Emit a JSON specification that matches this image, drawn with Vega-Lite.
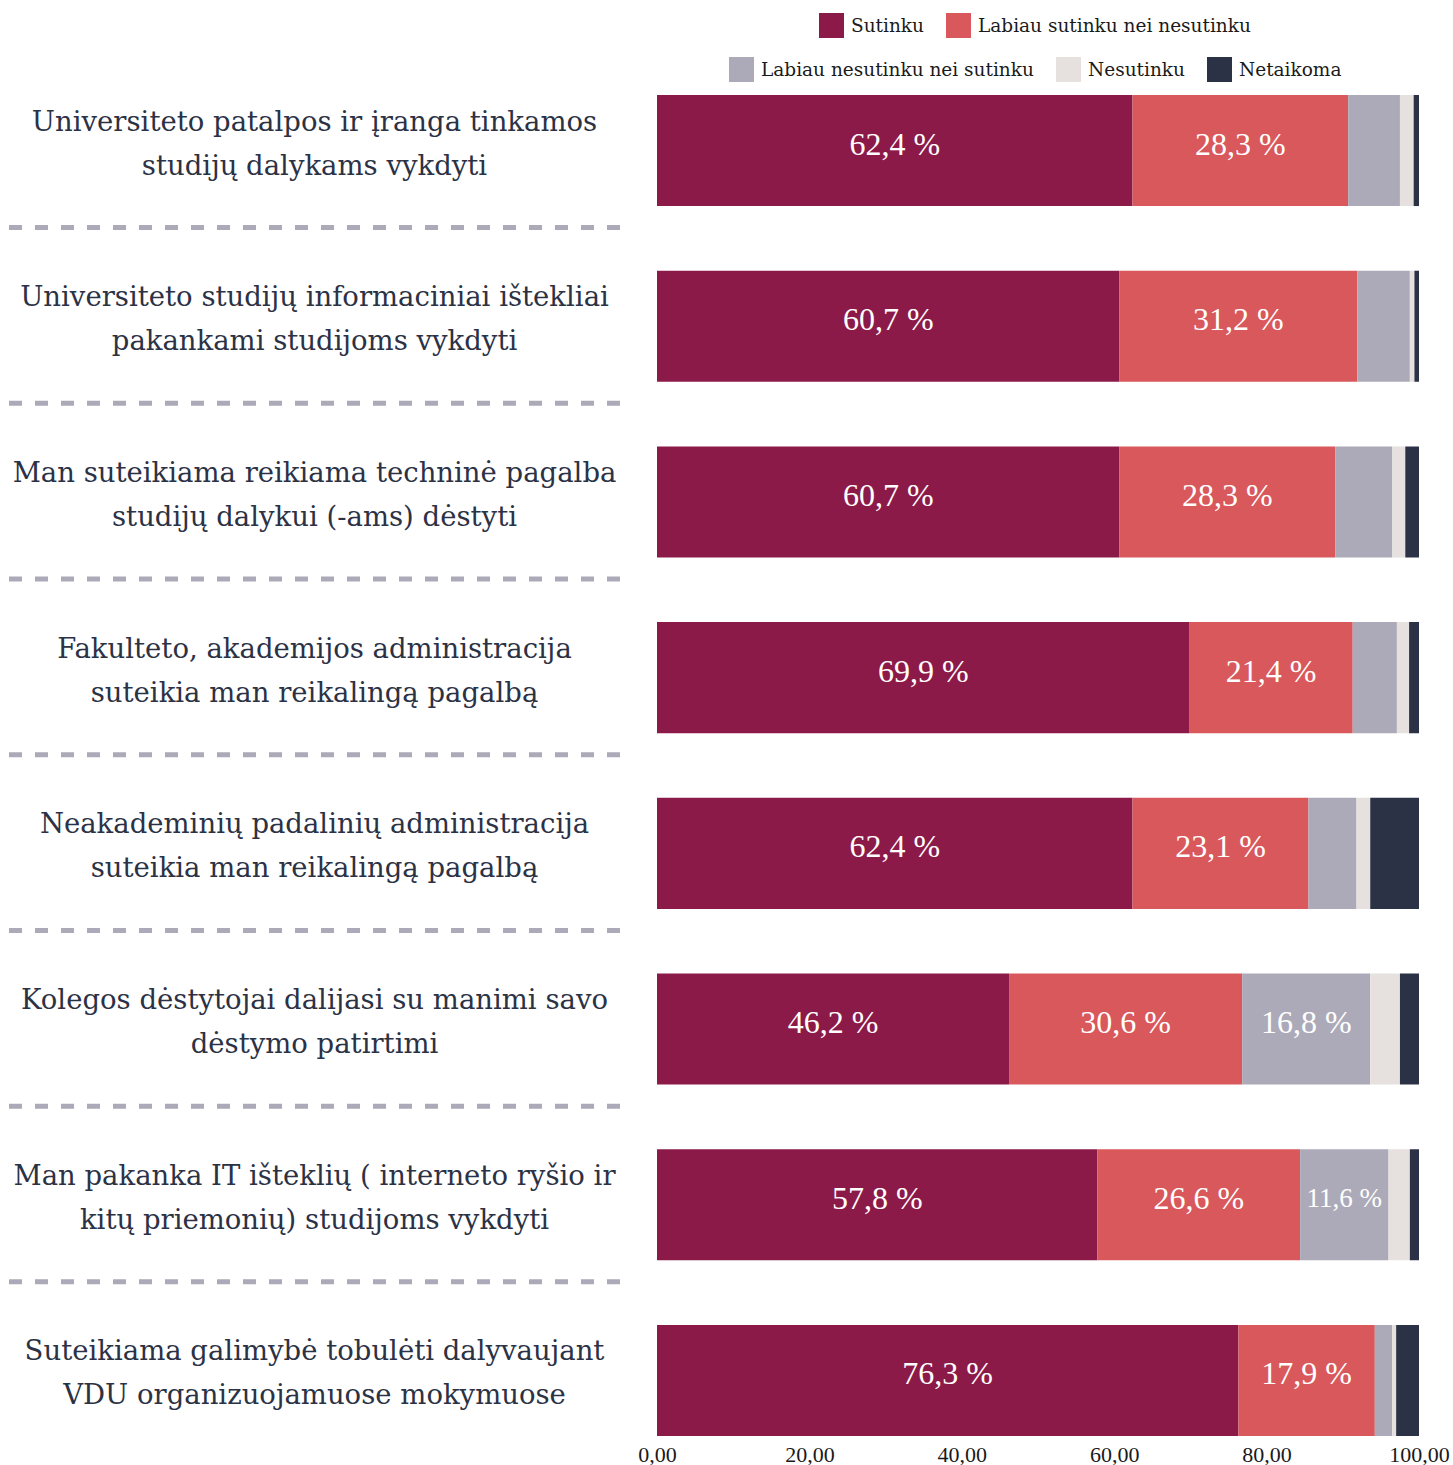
{
  "$schema": "https://vega.github.io/schema/vega-lite/v6.json",
  "padding": {"left": 6, "top": 13, "right": 0, "bottom": 0},
  "background": "white",
  "bounds": "flush",
  "config": {"view": {"stroke": null}, "concat": {"spacing": 37}},
  "datasets": {
    "questions": [
      {"q": 1, "label": "Universiteto patalpos ir įranga tinkamos\nstudijų dalykams vykdyti"},
      {"q": 2, "label": "Universiteto studijų informaciniai ištekliai\npakankami studijoms vykdyti"},
      {"q": 3, "label": "Man suteikiama reikiama techninė pagalba\nstudijų dalykui (-ams) dėstyti"},
      {"q": 4, "label": "Fakulteto, akademijos administracija\nsuteikia man reikalingą pagalbą"},
      {"q": 5, "label": "Neakademinių padalinių administracija\nsuteikia man reikalingą pagalbą"},
      {"q": 6, "label": "Kolegos dėstytojai dalijasi su manimi savo\ndėstymo patirtimi"},
      {"q": 7, "label": "Man pakanka IT išteklių ( interneto ryšio ir\nkitų priemonių) studijoms vykdyti"},
      {"q": 8, "label": "Suteikiama galimybė tobulėti dalyvaujant\nVDU organizuojamuose mokymuose"}
    ],
    "answers": [
      {"q": 1, "ord": 1, "cat": "Sutinku", "value": 62.4},
      {"q": 1, "ord": 2, "cat": "Labiau sutinku nei nesutinku", "value": 28.3},
      {"q": 1, "ord": 3, "cat": "Labiau nesutinku nei sutinku", "value": 6.8},
      {"q": 1, "ord": 4, "cat": "Nesutinku", "value": 1.8},
      {"q": 1, "ord": 5, "cat": "Netaikoma", "value": 0.7},
      {"q": 2, "ord": 1, "cat": "Sutinku", "value": 60.7},
      {"q": 2, "ord": 2, "cat": "Labiau sutinku nei nesutinku", "value": 31.2},
      {"q": 2, "ord": 3, "cat": "Labiau nesutinku nei sutinku", "value": 6.9},
      {"q": 2, "ord": 4, "cat": "Nesutinku", "value": 0.6},
      {"q": 2, "ord": 5, "cat": "Netaikoma", "value": 0.6},
      {"q": 3, "ord": 1, "cat": "Sutinku", "value": 60.7},
      {"q": 3, "ord": 2, "cat": "Labiau sutinku nei nesutinku", "value": 28.3},
      {"q": 3, "ord": 3, "cat": "Labiau nesutinku nei sutinku", "value": 7.5},
      {"q": 3, "ord": 4, "cat": "Nesutinku", "value": 1.7},
      {"q": 3, "ord": 5, "cat": "Netaikoma", "value": 1.8},
      {"q": 4, "ord": 1, "cat": "Sutinku", "value": 69.9},
      {"q": 4, "ord": 2, "cat": "Labiau sutinku nei nesutinku", "value": 21.4},
      {"q": 4, "ord": 3, "cat": "Labiau nesutinku nei sutinku", "value": 5.8},
      {"q": 4, "ord": 4, "cat": "Nesutinku", "value": 1.6},
      {"q": 4, "ord": 5, "cat": "Netaikoma", "value": 1.3},
      {"q": 5, "ord": 1, "cat": "Sutinku", "value": 62.4},
      {"q": 5, "ord": 2, "cat": "Labiau sutinku nei nesutinku", "value": 23.1},
      {"q": 5, "ord": 3, "cat": "Labiau nesutinku nei sutinku", "value": 6.3},
      {"q": 5, "ord": 4, "cat": "Nesutinku", "value": 1.8},
      {"q": 5, "ord": 5, "cat": "Netaikoma", "value": 6.4},
      {"q": 6, "ord": 1, "cat": "Sutinku", "value": 46.2},
      {"q": 6, "ord": 2, "cat": "Labiau sutinku nei nesutinku", "value": 30.6},
      {"q": 6, "ord": 3, "cat": "Labiau nesutinku nei sutinku", "value": 16.8},
      {"q": 6, "ord": 4, "cat": "Nesutinku", "value": 3.9},
      {"q": 6, "ord": 5, "cat": "Netaikoma", "value": 2.5},
      {"q": 7, "ord": 1, "cat": "Sutinku", "value": 57.8},
      {"q": 7, "ord": 2, "cat": "Labiau sutinku nei nesutinku", "value": 26.6},
      {"q": 7, "ord": 3, "cat": "Labiau nesutinku nei sutinku", "value": 11.6},
      {"q": 7, "ord": 4, "cat": "Nesutinku", "value": 2.8},
      {"q": 7, "ord": 5, "cat": "Netaikoma", "value": 1.2},
      {"q": 8, "ord": 1, "cat": "Sutinku", "value": 76.3},
      {"q": 8, "ord": 2, "cat": "Labiau sutinku nei nesutinku", "value": 17.9},
      {"q": 8, "ord": 3, "cat": "Labiau nesutinku nei sutinku", "value": 2.3},
      {"q": 8, "ord": 4, "cat": "Nesutinku", "value": 0.5},
      {"q": 8, "ord": 5, "cat": "Netaikoma", "value": 3.0}
    ]
  },
  "hconcat": [
    {
      "width": 611,
      "height": 1341,
      "data": {"name": "questions"},
      "layer": [
        {
          "mark": {"type": "text", "font": "DejaVu Serif", "fontSize": 27.5, "color": "#2C3245", "lineBreak": "\n", "lineHeight": 44, "align": "center", "baseline": "middle", "dy": -28},
          "encoding": {
            "y": {"field": "q", "type": "ordinal", "axis": null, "scale": {"paddingInner": 0.368, "paddingOuter": 0}},
            "text": {"field": "label", "type": "nominal"}
          }
        },
        {
          "transform": [{"filter": "datum.q < 8"}],
          "mark": {"type": "rule", "color": "#ACAAB8", "strokeWidth": 5, "strokeDash": [13, 13]},
          "encoding": {
            "y": {"field": "q", "type": "ordinal", "axis": null, "bandPosition": 1.194}
          }
        }
      ]
    },
    {
      "width": 762,
      "height": 1341,
      "data": {"name": "answers"},
      "transform": [
        {"stack": "value", "groupby": ["q"], "sort": [{"field": "ord", "order": "ascending"}], "as": ["x0", "x1"]},
        {"calculate": "(datum.x0 + datum.x1) / 2", "as": "mid"},
        {"calculate": "replace(format(datum.value, '.1f'), '.', ',') + ' %'", "as": "txt"}
      ],
      "encoding": {
        "y": {"field": "q", "type": "ordinal", "axis": null, "scale": {"paddingInner": 0.368, "paddingOuter": 0}}
      },
      "layer": [
        {
          "transform": [{"filter": "datum.ord <= 2"}],
          "mark": {"type": "bar"},
          "encoding": {
            "x": {
              "field": "x0", "type": "quantitative",
              "scale": {"domain": [0, 100], "nice": false},
              "axis": {"values": [0, 20, 40, 60, 80, 100], "labelExpr": "replace(format(datum.value, '.2f'), '.', ',')", "domain": false, "ticks": false, "grid": false, "title": null, "labelFont": "Liberation Serif", "labelFontSize": 22, "labelColor": "#1a1a1a", "labelPadding": 8, "labelFlush": false}
            },
            "x2": {"field": "x1"},
            "color": {
              "field": "cat", "type": "nominal",
              "scale": {"domain": ["Sutinku", "Labiau sutinku nei nesutinku"], "range": ["#8C1A48", "#D9585B"]},
              "legend": {"orient": "none", "legendX": 810, "legendY": -82, "direction": "horizontal", "title": null, "symbolType": "square", "symbolSize": 625, "symbolStrokeWidth": 0, "symbolOpacity": 1, "labelFont": "DejaVu Serif", "labelFontSize": 18.5, "labelLimit": 0, "labelColor": "#1a1a1a", "labelOffset": 7, "columnPadding": 22, "padding": 0, "offset": 0}
            }
          }
        },
        {
          "transform": [{"filter": "datum.ord > 2"}],
          "mark": {"type": "bar"},
          "encoding": {
            "x": {"field": "x0", "type": "quantitative"},
            "x2": {"field": "x1"},
            "fill": {
              "field": "cat", "type": "nominal",
              "scale": {"domain": ["Labiau nesutinku nei sutinku", "Nesutinku", "Netaikoma"], "range": ["#ACAAB8", "#E6E1DE", "#2C3245"]},
              "legend": {"orient": "none", "legendX": 720, "legendY": -38, "direction": "horizontal", "title": null, "symbolType": "square", "symbolSize": 625, "symbolStrokeWidth": 0, "symbolOpacity": 1, "labelFont": "DejaVu Serif", "labelFontSize": 18.5, "labelLimit": 0, "labelColor": "#1a1a1a", "labelOffset": 7, "columnPadding": 22, "padding": 0, "offset": 0}
            }
          }
        },
        {
          "transform": [{"filter": "datum.value >= 10"}],
          "mark": {"type": "text", "font": "Liberation Serif", "color": "white", "align": "center", "baseline": "middle", "dy": -6},
          "encoding": {
            "x": {"field": "mid", "type": "quantitative"},
            "text": {"field": "txt", "type": "nominal"},
            "size": {"condition": {"test": "datum.value < 15", "value": 27}, "value": 32}
          }
        }
      ]
    }
  ]
}
